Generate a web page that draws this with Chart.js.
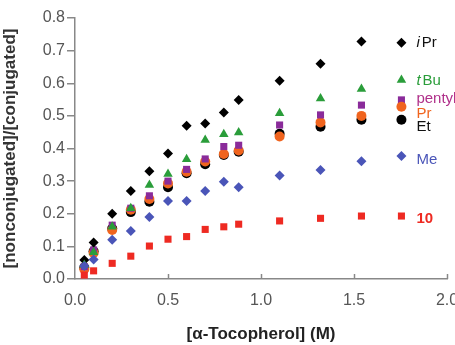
<!DOCTYPE html>
<html>
<head>
<meta charset="utf-8">
<script src="https://cdn.jsdelivr.net/npm/chart.js@4.4.0/dist/chart.umd.min.js"></script>
<style>
  html, body { margin: 0; padding: 0; background: #fff; }
  #wrap { width: 455px; height: 345px; }
</style>
</head>
<body>
<div id="wrap"><canvas id="chart" width="455" height="345"></canvas></div>
<script>
// ================= DATA =================
const conc = [0.05, 0.1, 0.2, 0.3, 0.4, 0.5, 0.6, 0.7, 0.8, 0.88, 1.1, 1.32, 1.54];

const iPr    = [0.058, 0.112, 0.200, 0.270, 0.330, 0.385, 0.470, 0.477, 0.510, 0.549, 0.608, 0.660, 0.728];
const tBu    = [0.043, 0.082, 0.160, 0.217, 0.288, 0.322, 0.367, 0.426, 0.444, 0.449, 0.508, 0.553, 0.582];
const pentyl = [0.038, 0.089, 0.165, 0.217, 0.255, 0.300, 0.336, 0.368, 0.406, 0.410, 0.472, 0.503, 0.533];
const Pr     = [0.030, 0.080, 0.150, 0.212, 0.245, 0.293, 0.329, 0.360, 0.383, 0.394, 0.437, 0.480, 0.500];
const Et     = [0.035, 0.085, 0.155, 0.205, 0.237, 0.281, 0.324, 0.352, 0.380, 0.390, 0.445, 0.467, 0.488];
const Me     = [0.040, 0.060, 0.120, 0.147, 0.190, 0.239, 0.239, 0.270, 0.298, 0.281, 0.317, 0.334, 0.361];
const cmp10  = [0.012, 0.025, 0.048, 0.070, 0.101, 0.122, 0.130, 0.152, 0.160, 0.168, 0.178, 0.186, 0.193];

const xTicks = [0.0, 0.5, 1.0, 1.5, 2.0];

// legend (in data units)
const legendX = 1.755;
const legendMarkY = [0.724, 0.610, 0.549, 0.528, 0.488, 0.377, 0.193];
const legendTextY = [0.724, 0.607, 0.552, 0.505, 0.466, 0.365, 0.184];
const legendNames = [["i", "Pr"], ["t", "Bu"], ["", "pentyl"], ["", "Pr"], ["", "Et"], ["", "Me"], ["", "10"]];

// ================= SERIES STYLE =================
const series = [
  { data: iPr,    color: "#000000", text: "#111111", style: "rectRot",  r: 5 },
  { data: tBu,    color: "#2a9d3a", text: "#2a9d3a", style: "triangle", r: 5.5 },
  { data: pentyl, color: "#8a2b9a", text: "#b0308a", style: "rect",     r: 5 },
  { data: Pr,     color: "#f0641e", text: "#f0641e", style: "circle",   r: 5 },
  { data: Et,     color: "#000000", text: "#111111", style: "circle",   r: 5 },
  { data: Me,     color: "#4a55b8", text: "#4a55b8", style: "rectRot",  r: 5 },
  { data: cmp10,  color: "#ee2a22", text: "#ee2a22", style: "rect",     r: 5 }
];

const datasets = series.map((s, i) => ({
  label: legendNames[i].join(""),
  data: conc.map((x, j) => ({ x: x, y: s.data[j] })),
  pointStyle: s.style,
  pointRadius: s.r,
  pointBackgroundColor: s.color,
  pointBorderColor: s.color,
  pointBorderWidth: 0,
  showLine: false,
  order: [3, 2, 4, 5, 6, 1, 0][i]
}));

// ================= PLUGINS =================
const innerTicks = {
  id: "innerTicks",
  afterDraw(chart) {
    const ctx = chart.ctx;
    const xs = chart.scales.x;
    const bottom = chart.chartArea.bottom;
    ctx.save();
    ctx.strokeStyle = "#888";
    ctx.lineWidth = 1.5;
    xTicks.forEach(v => {
      if (v === 0) return;
      const px = Math.round(xs.getPixelForValue(v)) + 0.5;
      ctx.beginPath();
      ctx.moveTo(px, bottom);
      ctx.lineTo(px, bottom - 5);
      ctx.stroke();
    });
    ctx.restore();
  }
};

const sideLegend = {
  id: "sideLegend",
  afterDatasetsDraw(chart) {
    const ctx = chart.ctx;
    const xs = chart.scales.x;
    const ys = chart.scales.y;
    const mx = xs.getPixelForValue(legendX);
    ctx.save();
    series.forEach((s, i) => {
      const my = ys.getPixelForValue(legendMarkY[i]);
      ctx.fillStyle = s.color;
      ctx.strokeStyle = s.color;
      Chart.helpers.drawPoint(ctx, { pointStyle: s.style, radius: s.r, borderWidth: 0, rotation: 0 }, mx, my);
    });
    const tx = mx + 15;
    series.forEach((s, i) => {
      const ty = ys.getPixelForValue(legendTextY[i]);
      const [it, rest] = legendNames[i];
      ctx.fillStyle = s.text;
      ctx.textBaseline = "middle";
      ctx.textAlign = "left";
      let x = tx;
      if (it) {
        ctx.font = "italic 15px 'Liberation Sans', Arial, sans-serif";
        ctx.fillText(it, x, ty);
        x += ctx.measureText(it).width + 2;
      }
      ctx.font = (i === 6 ? "bold " : "") + "15px 'Liberation Sans', Arial, sans-serif";
      ctx.fillText(rest, x, ty);
    });
    ctx.restore();
  }
};

// ================= CHART =================
Chart.defaults.font.family = "'Liberation Sans', Arial, sans-serif";

const ctx = document.getElementById("chart").getContext("2d");

new Chart(ctx, {
  type: "scatter",
  data: { datasets: datasets },
  options: {
    responsive: false,
    animation: false,
    layout: { padding: { top: 18, right: 0, left: 0, bottom: 0 } },
    plugins: {
      legend: { display: false },
      tooltip: { enabled: false }
    },
    scales: {
      x: {
        type: "linear",
        min: 0,
        max: 2,
        afterBuildTicks(scale) {
          scale.ticks = xTicks.map(v => ({ value: v }));
        },
        ticks: {
          padding: 12,
          color: "#555",
          font: { size: 16 },
          callback: v => v.toFixed(1)
        },
        grid: { drawOnChartArea: false, drawTicks: false },
        border: { color: "#888", width: 1.5 },
        title: {
          display: true,
          text: "[α-Tocopherol] (M)",
          color: "#222",
          font: { size: 17, weight: "bold" },
          padding: { top: 4, bottom: 0 }
        },
        afterFit(scale) {
          scale.height = 66;
          scale.paddingRight = 8;
        }
      },
      y: {
        min: 0,
        max: 0.8,
        ticks: {
          stepSize: 0.1,
          padding: 2,
          color: "#555",
          font: { size: 16 },
          callback: v => v.toFixed(1)
        },
        grid: { drawOnChartArea: false, drawTicks: true, tickLength: 8, color: "#888", lineWidth: 1.5 },
        border: { color: "#888", width: 1.5 },
        title: {
          display: true,
          text: "[nonconjugated]/[conjugated]",
          color: "#333",
          font: { size: 17, weight: "bold" },
          padding: { top: 0, bottom: 1 }
        },
        afterFit(scale) { scale.width = 75; }
      }
    }
  },
  plugins: [innerTicks, sideLegend]
});
</script>
</body>
</html>
